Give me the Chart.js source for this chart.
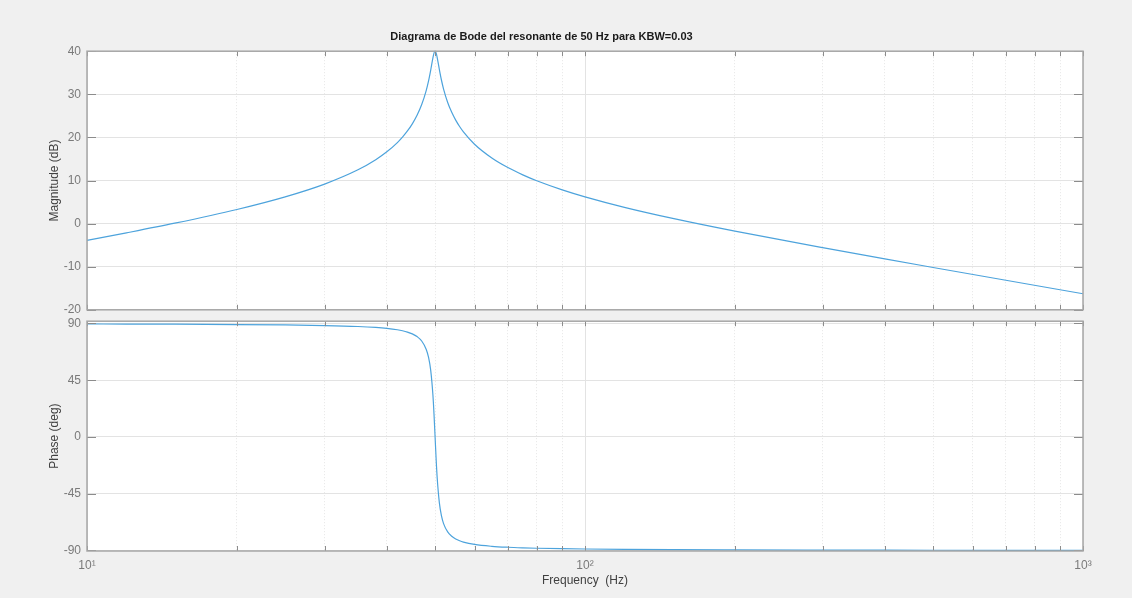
<!DOCTYPE html>
<html>
<head>
<meta charset="utf-8">
<script src="https://cdn.jsdelivr.net/npm/chart.js@4/dist/chart.umd.min.js"></script>
<style>
  html, body { margin: 0; padding: 0; background: #f0f0f0; }
  #wrap { position: relative; width: 1132px; height: 598px; }
  #mag, #phase { position: absolute; left: 0; }
  #mag { top: 0; }
  #phase { top: 308px; }
</style>
</head>
<body>
<div id="wrap">
  <canvas id="mag" width="1132" height="323"></canvas>
  <canvas id="phase" width="1132" height="290"></canvas>
</div>
<script>
// values
const freqHz = [10, 12, 15, 20, 25, 30, 35, 38, 40, 42, 43, 44, 45, 46, 47, 48, 48.5, 49, 49.5, 49.75, 50,
  50.25, 50.5, 51, 51.5, 52, 53, 54, 55, 56, 57, 60, 65, 70, 75, 80, 90, 100, 120, 150, 200, 300, 400, 500, 700, 1000];
const magDb = [-3.90, -2.15, 0.09, 3.28, 6.21, 9.17, 12.48, 14.82, 16.65, 18.80, 20.06, 21.49, 23.15, 25.13, 27.62, 30.92, 33.05, 35.63, 38.45, 39.56, 40.0,
  39.56, 38.47, 35.74, 33.26, 31.22, 28.11, 25.81, 24.00, 22.52, 21.28, 18.41, 15.22, 13.00, 11.31, 9.94, 7.83, 6.21, 3.78, 1.21, -1.75, -5.59, -8.20, -10.18, -13.15, -16.27];
const phaseDeg = [89.63, 89.55, 89.42, 89.16, 88.83, 88.35, 87.59, 86.84, 86.10, 85.00, 84.22, 83.18, 81.74, 79.60, 76.09, 69.43, 63.30, 52.81, 33.24, 18.1, 0,
  -18.0, -32.98, -52.26, -62.59, -68.67, -75.27, -78.75, -80.88, -82.31, -83.35, -85.22, -86.69, -87.44, -87.89, -88.20, -88.59, -88.83, -89.11, -89.34, -89.53, -89.69, -89.78, -89.82, -89.87, -89.91];
const magTicks = [-20, -10, 0, 10, 20, 30, 40];
const phaseTicks = [-90, -45, 0, 45, 90];
const decadeLabels = { 10: '10\u00b9', 100: '10\u00b2', 1000: '10\u00b3' };
const titleText = 'Diagrama de Bode del resonante de 50 Hz para KBW=0.03';

const LINE = '#4da3dc';
const BOX = '#a6a6a6';
const TICKTXT = '#7a7a7a';
const FONT = 'Liberation Sans, Arial, sans-serif';

const isDecade = v => Math.abs(Math.log10(v) - Math.round(Math.log10(v))) < 1e-6;

// white axes background, box and inward ticks like matlab
const axesPlugin = {
  id: 'axesBox',
  beforeDraw(chart) {
    const { ctx, chartArea: a } = chart;
    ctx.save();
    ctx.fillStyle = '#ffffff';
    ctx.fillRect(a.left, a.top, a.right - a.left, a.bottom - a.top);
    ctx.restore();
  },
  afterDraw(chart) {
    const { ctx, chartArea: a } = chart;
    const x = chart.scales.x, y = chart.scales.y;
    ctx.save();
    ctx.strokeStyle = '#8c8c8c';
    ctx.lineWidth = 1;
    ctx.beginPath();
    x.ticks.forEach(t => {
      const px = Math.round(x.getPixelForValue(t.value)) + 0.5;
      ctx.moveTo(px, a.top); ctx.lineTo(px, a.top + 5);
      ctx.moveTo(px, a.bottom); ctx.lineTo(px, a.bottom - 5);
    });
    y.ticks.forEach(t => {
      const py = Math.round(y.getPixelForValue(t.value)) + 0.5;
      ctx.moveTo(a.left, py); ctx.lineTo(a.left + 9, py);
      ctx.moveTo(a.right, py); ctx.lineTo(a.right - 9, py);
    });
    ctx.stroke();
    ctx.strokeStyle = BOX;
    ctx.lineWidth = 1.5;
    ctx.strokeRect(a.left, a.top, a.right - a.left, a.bottom - a.top);
    ctx.restore();
  }
};

function xScale(showLabels) {
  return {
    type: 'logarithmic',
    min: 10, max: 1000,
    afterBuildTicks: s => {
      const list = [];
      [10, 100].forEach(d => { for (let k = 1; k < 10; k++) list.push({ value: d * k }); });
      list.push({ value: 1000 });
      s.ticks = list;
    },
    afterFit: s => { s.height = showLabels ? 47 : 0; },
    border: { display: false, dash: ctx => (ctx.tick && isDecade(ctx.tick.value)) ? [] : [1, 2] },
    grid: {
      drawTicks: false,
      color: ctx => (ctx.tick && isDecade(ctx.tick.value)) ? '#e3e3e3' : '#e6e6e6',
      lineWidth: 1
    },
    ticks: {
      display: showLabels,
      autoSkip: false,
      maxRotation: 0,
      padding: 7,
      color: TICKTXT,
      font: { family: FONT, size: 12 },
      callback: v => decadeLabels[v] || ''
    },
    title: {
      display: showLabels,
      text: 'Frequency  (Hz)',
      color: '#404040',
      font: { family: FONT, size: 12 },
      padding: { top: 0, bottom: 9.8 }
    }
  };
}

function yScale(lo, hi, ticks, label) {
  return {
    min: lo, max: hi,
    afterBuildTicks: s => { s.ticks = ticks.map(v => ({ value: v })); },
    afterFit: s => { s.width = 87; },
    border: { display: false },
    grid: { drawTicks: false, color: '#e3e3e3' },
    ticks: {
      padding: 6,
      color: TICKTXT,
      font: { family: FONT, size: 12 }
    },
    title: {
      display: true,
      text: label,
      color: '#404040',
      font: { family: FONT, size: 12 },
      padding: { top: 47.5, bottom: 0 }
    }
  };
}

function dataset(vals) {
  return {
    data: freqHz.map((f, i) => ({ x: f, y: vals[i] })),
    showLine: true,
    borderColor: LINE,
    borderWidth: 1.2,
    pointRadius: 0,
    cubicInterpolationMode: 'monotone',
    clip: 2
  };
}

new Chart(document.getElementById('mag'), {
  type: 'scatter',
  data: { datasets: [dataset(magDb)] },
  plugins: [axesPlugin],
  options: {
    responsive: false,
    animation: false,
    layout: { padding: { left: 0, right: 49, top: 0, bottom: 0 } },
    plugins: {
      legend: { display: false },
      tooltip: { enabled: false },
      title: {
        display: true,
        text: titleText,
        color: '#1a1a1a',
        font: { family: FONT, size: 11, weight: 'bold' },
        padding: { top: 30, bottom: 8 }
      }
    },
    scales: { x: xScale(false), y: yScale(-20, 40, magTicks, 'Magnitude (dB)') }
  }
});

new Chart(document.getElementById('phase'), {
  type: 'scatter',
  data: { datasets: [dataset(phaseDeg)] },
  plugins: [axesPlugin],
  options: {
    responsive: false,
    animation: false,
    layout: { padding: { left: 0, right: 49, top: 0, bottom: 0 } },
    plugins: { legend: { display: false }, tooltip: { enabled: false } },
    scales: { x: xScale(true), y: yScale(-90.4, 91.8, phaseTicks, 'Phase (deg)') }
  }
});
</script>
</body>
</html>
